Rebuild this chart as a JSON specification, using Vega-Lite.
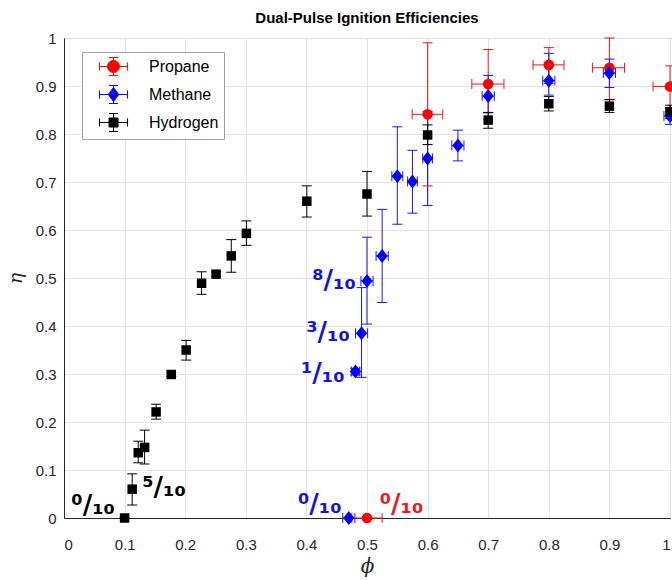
{
  "$schema": "https://vega.github.io/schema/vega-lite/v6.json",
  "width": 606,
  "height": 480,
  "autosize": {"type": "none"},
  "padding": {"left": 64, "top": 38, "right": 2, "bottom": 62},
  "background": "white",
  "title": {"text": "Dual-Pulse Ignition Efficiencies", "font": "Liberation Sans", "fontSize": 15, "fontWeight": "bold", "color": "#000000", "anchor": "middle", "offset": 5},
  "config": {
    "view": {"stroke": "#262626", "strokeWidth": 1},
    "axis": {"domainColor": "#262626", "gridColor": "#e2e2e2", "gridOpacity": 1, "ticks": false, "labelFont": "Liberation Sans", "labelFontSize": 15, "labelColor": "#262626", "titleFont": "DejaVu Serif", "titleFontStyle": "italic", "titleFontWeight": "normal", "titleColor": "#262626"}
  },
  "datasets": {
    "pts": [
      {"fuel": "Propane", "phi": 0.5, "eta": 0.0, "lo": 0.0, "hi": 0.0, "xlo": 0.475, "xhi": 0.525},
      {"fuel": "Propane", "phi": 0.6, "eta": 0.841, "lo": 0.692, "hi": 0.99, "xlo": 0.5745, "xhi": 0.625},
      {"fuel": "Propane", "phi": 0.7, "eta": 0.904, "lo": 0.83, "hi": 0.976, "xlo": 0.673, "xhi": 0.726},
      {"fuel": "Propane", "phi": 0.8, "eta": 0.944, "lo": 0.905, "hi": 0.98, "xlo": 0.774, "xhi": 0.825},
      {"fuel": "Propane", "phi": 0.9, "eta": 0.938, "lo": 0.871, "hi": 1.0, "xlo": 0.872, "xhi": 0.925},
      {"fuel": "Propane", "phi": 1.0, "eta": 0.899, "lo": 0.855, "hi": 0.942, "xlo": 0.972, "xhi": 1.028},
      {"fuel": "Methane", "phi": 0.47, "eta": 0.0, "lo": 0.0, "hi": 0.0, "xlo": 0.46, "xhi": 0.48},
      {"fuel": "Methane", "phi": 0.481, "eta": 0.305, "lo": 0.298, "hi": 0.312, "xlo": 0.474, "xhi": 0.488},
      {"fuel": "Methane", "phi": 0.491, "eta": 0.385, "lo": 0.293, "hi": 0.48, "xlo": 0.481, "xhi": 0.501},
      {"fuel": "Methane", "phi": 0.5, "eta": 0.494, "lo": 0.404, "hi": 0.585, "xlo": 0.49, "xhi": 0.51},
      {"fuel": "Methane", "phi": 0.525, "eta": 0.546, "lo": 0.449, "hi": 0.643, "xlo": 0.515, "xhi": 0.535},
      {"fuel": "Methane", "phi": 0.55, "eta": 0.712, "lo": 0.612, "hi": 0.815, "xlo": 0.541, "xhi": 0.559},
      {"fuel": "Methane", "phi": 0.575, "eta": 0.701, "lo": 0.635, "hi": 0.766, "xlo": 0.567, "xhi": 0.583},
      {"fuel": "Methane", "phi": 0.6, "eta": 0.749, "lo": 0.651, "hi": 0.847, "xlo": 0.592, "xhi": 0.608},
      {"fuel": "Methane", "phi": 0.65, "eta": 0.776, "lo": 0.744, "hi": 0.808, "xlo": 0.64, "xhi": 0.66},
      {"fuel": "Methane", "phi": 0.7, "eta": 0.879, "lo": 0.844, "hi": 0.922, "xlo": 0.69, "xhi": 0.71},
      {"fuel": "Methane", "phi": 0.8, "eta": 0.911, "lo": 0.881, "hi": 0.968, "xlo": 0.79, "xhi": 0.81},
      {"fuel": "Methane", "phi": 0.9, "eta": 0.927, "lo": 0.897, "hi": 0.956, "xlo": 0.89, "xhi": 0.91},
      {"fuel": "Methane", "phi": 1.0, "eta": 0.8375, "lo": 0.82, "hi": 0.855, "xlo": 0.99, "xhi": 1.01},
      {"fuel": "Hydrogen", "phi": 0.1, "eta": 0.0, "lo": 0.0, "hi": 0.0},
      {"fuel": "Hydrogen", "phi": 0.1125, "eta": 0.06, "lo": 0.027, "hi": 0.092},
      {"fuel": "Hydrogen", "phi": 0.1225, "eta": 0.136, "lo": 0.115, "hi": 0.16},
      {"fuel": "Hydrogen", "phi": 0.133, "eta": 0.147, "lo": 0.1125, "hi": 0.183},
      {"fuel": "Hydrogen", "phi": 0.152, "eta": 0.221, "lo": 0.206, "hi": 0.237},
      {"fuel": "Hydrogen", "phi": 0.177, "eta": 0.299, "lo": 0.295, "hi": 0.303},
      {"fuel": "Hydrogen", "phi": 0.2016, "eta": 0.35, "lo": 0.329, "hi": 0.37},
      {"fuel": "Hydrogen", "phi": 0.227, "eta": 0.489, "lo": 0.466, "hi": 0.513},
      {"fuel": "Hydrogen", "phi": 0.251, "eta": 0.508, "lo": 0.503, "hi": 0.513},
      {"fuel": "Hydrogen", "phi": 0.276, "eta": 0.546, "lo": 0.512, "hi": 0.58},
      {"fuel": "Hydrogen", "phi": 0.301, "eta": 0.593, "lo": 0.568, "hi": 0.619},
      {"fuel": "Hydrogen", "phi": 0.4007, "eta": 0.66, "lo": 0.627, "hi": 0.692},
      {"fuel": "Hydrogen", "phi": 0.5, "eta": 0.675, "lo": 0.629, "hi": 0.722},
      {"fuel": "Hydrogen", "phi": 0.6, "eta": 0.798, "lo": 0.778, "hi": 0.819},
      {"fuel": "Hydrogen", "phi": 0.7, "eta": 0.829, "lo": 0.812, "hi": 0.845},
      {"fuel": "Hydrogen", "phi": 0.8, "eta": 0.863, "lo": 0.848, "hi": 0.878},
      {"fuel": "Hydrogen", "phi": 0.9, "eta": 0.858, "lo": 0.845, "hi": 0.872},
      {"fuel": "Hydrogen", "phi": 1.0, "eta": 0.846, "lo": 0.832, "hi": 0.86}
    ],
    "notes": [
      {"fuel": "Hydrogen", "t": "⁰/₁₀", "phi": 0.048, "eta": 0.025},
      {"fuel": "Hydrogen", "t": "⁵/₁₀", "phi": 0.165, "eta": 0.0625},
      {"fuel": "Methane", "t": "⁸/₁₀", "phi": 0.4455, "eta": 0.494},
      {"fuel": "Methane", "t": "³/₁₀", "phi": 0.4356, "eta": 0.385},
      {"fuel": "Methane", "t": "¹/₁₀", "phi": 0.427, "eta": 0.3},
      {"fuel": "Methane", "t": "⁰/₁₀", "phi": 0.422, "eta": 0.027},
      {"fuel": "Propane", "t": "⁰/₁₀", "phi": 0.557, "eta": 0.027}
    ]
  },
  "layer": [
    {
      "data": {"name": "pts"},
      "mark": {"type": "rule", "strokeWidth": 1, "opacity": 1},
      "encoding": {
        "x": {"field": "phi", "type": "quantitative", "title": "ϕ", "scale": {"domain": [0, 1], "nice": false, "zero": false},
              "axis": {"values": [0, 0.1, 0.2, 0.3, 0.4, 0.5, 0.6, 0.7, 0.8, 0.9, 1], "format": "~g", "labelPadding": 19, "titleFontSize": 20, "titlePadding": 4}},
        "y": {"field": "lo", "type": "quantitative", "title": "η", "scale": {"domain": [0, 1], "nice": false, "zero": false},
              "axis": {"values": [0, 0.1, 0.2, 0.3, 0.4, 0.5, 0.6, 0.7, 0.8, 0.9, 1], "format": "~g", "labelPadding": 8, "titleFontSize": 19, "titlePadding": 10}},
        "y2": {"field": "hi"},
        "color": {"condition": [{"test": "datum.fuel === 'Propane'", "value": "#f01818"}, {"test": "datum.fuel === 'Methane'", "value": "#1818e8"}], "value": "#000000"}
      }
    },
    {
      "data": {"name": "pts"},
      "transform": [{"fold": ["lo", "hi"], "as": ["end", "val"]}],
      "mark": {"type": "tick", "orient": "horizontal", "size": 10, "thickness": 1, "opacity": 1},
      "encoding": {
        "x": {"field": "phi", "type": "quantitative", "title": "ϕ"},
        "y": {"field": "val", "type": "quantitative", "title": "η"},
        "color": {"condition": [{"test": "datum.fuel === 'Propane'", "value": "#f01818"}, {"test": "datum.fuel === 'Methane'", "value": "#1818e8"}], "value": "#000000"}
      }
    },
    {
      "data": {"name": "pts"},
      "transform": [{"filter": "isValid(datum.xlo)"}],
      "mark": {"type": "rule", "strokeWidth": 1, "opacity": 1},
      "encoding": {
        "x": {"field": "xlo", "type": "quantitative", "title": "ϕ"},
        "x2": {"field": "xhi"},
        "y": {"field": "eta", "type": "quantitative", "title": "η"},
        "color": {"condition": [{"test": "datum.fuel === 'Propane'", "value": "#f01818"}, {"test": "datum.fuel === 'Methane'", "value": "#1818e8"}], "value": "#000000"}
      }
    },
    {
      "data": {"name": "pts"},
      "transform": [{"filter": "isValid(datum.xlo)"}, {"fold": ["xlo", "xhi"], "as": ["end", "val"]}],
      "mark": {"type": "tick", "orient": "vertical", "size": 10, "thickness": 1, "opacity": 1},
      "encoding": {
        "x": {"field": "val", "type": "quantitative", "title": "ϕ"},
        "y": {"field": "eta", "type": "quantitative", "title": "η"},
        "color": {"condition": [{"test": "datum.fuel === 'Propane'", "value": "#f01818"}, {"test": "datum.fuel === 'Methane'", "value": "#1818e8"}], "value": "#000000"}
      }
    },
    {
      "data": {"name": "pts"},
      "transform": [{"filter": "datum.fuel === 'Propane'"}],
      "mark": {"type": "point", "shape": "circle", "filled": true, "size": 113, "opacity": 1, "color": "#ff0000"},
      "encoding": {
        "x": {"field": "phi", "type": "quantitative", "title": "ϕ"},
        "y": {"field": "eta", "type": "quantitative", "title": "η"}
      }
    },
    {
      "data": {"name": "pts"},
      "transform": [{"filter": "datum.fuel === 'Methane'"}],
      "mark": {"type": "point", "shape": "M0,-1L0.8,0L0,1L-0.8,0Z", "filled": true, "size": 196, "opacity": 1, "color": "#0000ff"},
      "encoding": {
        "x": {"field": "phi", "type": "quantitative", "title": "ϕ"},
        "y": {"field": "eta", "type": "quantitative", "title": "η"}
      }
    },
    {
      "data": {"name": "pts"},
      "transform": [{"filter": "datum.fuel === 'Hydrogen'"}],
      "mark": {"type": "point", "shape": "square", "filled": true, "size": 90, "opacity": 1, "color": "#000000"},
      "encoding": {
        "x": {"field": "phi", "type": "quantitative", "title": "ϕ"},
        "y": {"field": "eta", "type": "quantitative", "title": "η"}
      }
    },
    {
      "data": {"name": "notes"},
      "mark": {"type": "text", "font": "DejaVu Sans", "fontWeight": "bold", "fontSize": 26, "align": "center", "baseline": "middle"},
      "encoding": {
        "x": {"field": "phi", "type": "quantitative", "title": "ϕ"},
        "y": {"field": "eta", "type": "quantitative", "title": "η"},
        "text": {"field": "t", "type": "nominal"},
        "color": {"condition": [{"test": "datum.fuel === 'Propane'", "value": "#e81c1c"}, {"test": "datum.fuel === 'Methane'", "value": "#1414d8"}], "value": "#000000"}
      }
    },
    {
      "data": {"name": "pts"},
      "transform": [{"filter": "false"}],
      "mark": {"type": "point", "filled": true, "opacity": 1, "strokeWidth": 1},
      "encoding": {
        "x": {"field": "phi", "type": "quantitative", "title": "ϕ"},
        "y": {"field": "eta", "type": "quantitative", "title": "η"},
        "color": {"field": "fuel", "type": "nominal",
                  "scale": {"domain": ["Propane", "Methane", "Hydrogen"], "range": ["#ff0000", "#0000ff", "#000000"]},
                  "legend": {"title": null, "orient": "none", "legendX": 18, "legendY": 14, "fillColor": "white", "strokeColor": "#a0a0a0", "padding": 5, "symbolSize": 324, "symbolStrokeWidth": 1, "labelFont": "Liberation Sans", "labelFontSize": 16, "labelColor": "#000000", "labelOffset": 43, "rowPadding": 5}},
        "stroke": {"field": "fuel", "type": "nominal",
                  "scale": {"domain": ["Propane", "Methane", "Hydrogen"], "range": ["#ff0000", "#0000ff", "#000000"]},
                  "legend": {"title": null, "orient": "none", "legendX": 18, "legendY": 14, "fillColor": "white", "strokeColor": "#a0a0a0", "padding": 5, "symbolSize": 324, "symbolStrokeWidth": 1, "labelFont": "Liberation Sans", "labelFontSize": 16, "labelColor": "#000000", "labelOffset": 43, "rowPadding": 5}},
        "shape": {"field": "fuel", "type": "nominal",
                  "scale": {"domain": ["Propane", "Methane", "Hydrogen"], "range": [
                    "M1.223,0A0.667,0.667,0,1,0,2.557,0A0.667,0.667,0,1,0,1.223,0ZM0.33,0L3.45,0M0.33,-0.45L0.33,0.45M3.45,-0.45L3.45,0.45M1.89,-1L1.89,1M1.39,-1L2.39,-1M1.39,1L2.39,1",
                    "M1.89,-0.78L2.47,0L1.89,0.78L1.31,0ZM0.33,0L3.45,0M0.33,-0.45L0.33,0.45M3.45,-0.45L3.45,0.45M1.89,-1L1.89,1M1.39,-1L2.39,-1M1.39,1L2.39,1",
                    "M1.39,-0.5L2.39,-0.5L2.39,0.5L1.39,0.5ZM0.33,0L3.45,0M0.33,-0.45L0.33,0.45M3.45,-0.45L3.45,0.45M1.89,-1L1.89,1M1.39,-1L2.39,-1M1.39,1L2.39,1"]},
                  "legend": {"title": null, "orient": "none", "legendX": 18, "legendY": 14, "fillColor": "white", "strokeColor": "#a0a0a0", "padding": 5, "symbolSize": 324, "symbolStrokeWidth": 1, "labelFont": "Liberation Sans", "labelFontSize": 16, "labelColor": "#000000", "labelOffset": 43, "rowPadding": 5}}
      }
    }
  ]
}
